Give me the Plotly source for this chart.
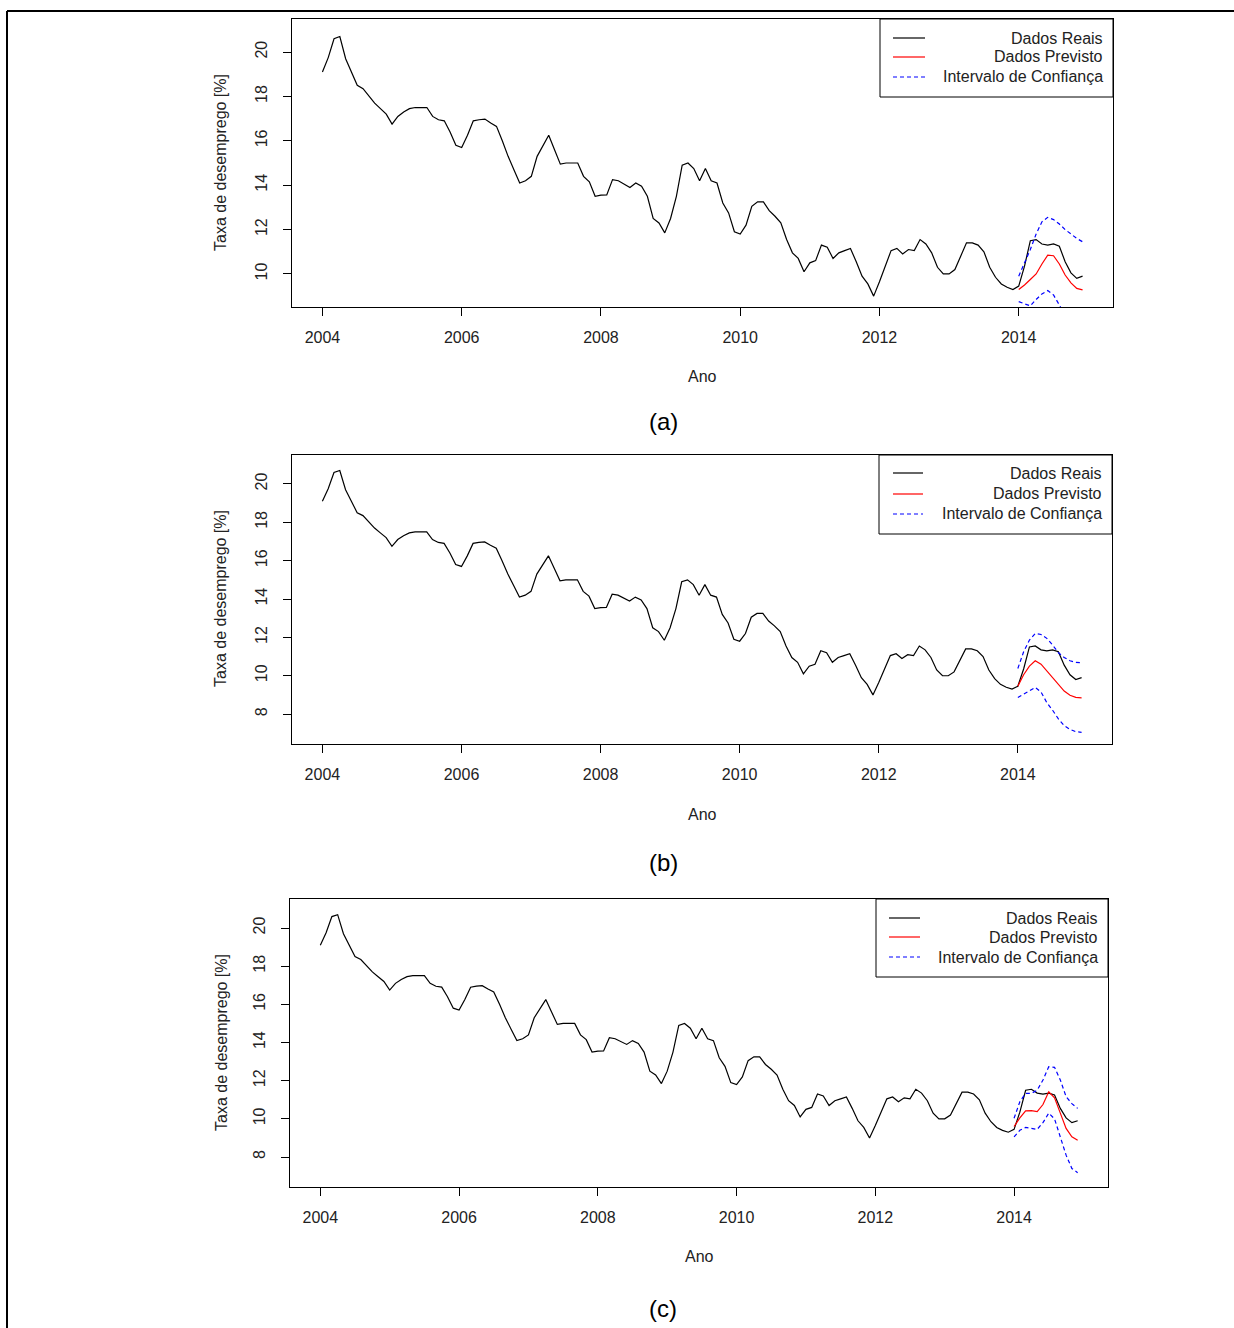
import plotly.graph_objects as go

# ---------------- data ----------------
start_year = 2004
real_values = [
    19.1, 19.75, 20.6, 20.7, 19.7, 19.1, 18.5, 18.35, 18.0, 17.7, 17.45, 17.2,
    16.75, 17.1, 17.3, 17.45, 17.5, 17.5, 17.5, 17.1, 16.95, 16.9, 16.4, 15.8,
    15.7, 16.25, 16.9, 16.95, 16.98, 16.8, 16.65, 16.0, 15.3, 14.7, 14.1, 14.2,
    14.4, 15.3, 15.8, 16.25, 15.6, 14.95, 15.0, 15.0, 15.0, 14.4, 14.15, 13.5,
    13.55, 13.56, 14.25, 14.2, 14.05, 13.9, 14.1, 13.95, 13.5, 12.5, 12.3, 11.85,
    12.5, 13.5, 14.9, 15.0, 14.75, 14.2, 14.75, 14.2, 14.1, 13.2, 12.75, 11.9,
    11.8, 12.2, 13.05, 13.25, 13.25, 12.85, 12.6, 12.3, 11.55, 10.95, 10.7, 10.1,
    10.5, 10.6, 11.3, 11.2, 10.7, 10.95, 11.05, 11.15, 10.55, 9.9, 9.55, 9.0,
    9.65, 10.35, 11.05, 11.15, 10.9, 11.1, 11.05, 11.55, 11.35, 10.95, 10.3, 10.0,
    10.0, 10.2, 10.8, 11.4, 11.4, 11.3, 11.0, 10.3, 9.85, 9.55, 9.4, 9.3,
    9.45, 10.35, 11.5, 11.55, 11.35, 11.3, 11.35, 11.25, 10.55, 10.05, 9.8, 9.9,
]
forecast_start = 2014

# panel (a)
forecast_a = [9.3, 9.5, 9.75, 10.0, 10.45, 10.85, 10.82, 10.45, 9.95, 9.6, 9.35, 9.28]
upper_a = [9.9, 10.5, 11.1, 11.8, 12.35, 12.55, 12.45, 12.25, 12.0, 11.8, 11.6, 11.45]
lower_a = [8.75, 8.65, 8.56, 8.85, 9.1, 9.25, 9.05, 8.6, 8.1, 7.7, 7.4, 7.2]
# panel (b)
forecast_b = [9.45, 10.05, 10.5, 10.78, 10.6, 10.25, 9.9, 9.55, 9.2, 8.98, 8.87, 8.85]
upper_b = [10.38, 11.25, 11.86, 12.2, 12.15, 11.95, 11.6, 11.2, 10.95, 10.78, 10.7, 10.68]
lower_b = [8.87, 9.05, 9.25, 9.39, 9.15, 8.6, 8.2, 7.75, 7.4, 7.2, 7.08, 7.05]
# panel (c)
forecast_c = [9.6, 10.05, 10.42, 10.43, 10.38, 10.75, 11.42, 11.1, 10.3, 9.5, 9.06, 8.88]
upper_c = [10.03, 10.9, 11.34, 11.34, 11.5, 12.04, 12.73, 12.7, 12.04, 11.16, 10.8, 10.55]
lower_c = [9.06, 9.4, 9.55, 9.5, 9.45, 9.8, 10.3, 10.0, 9.06, 8.1, 7.4, 7.18]

legend_labels = ["Dados Reais", "Dados Previsto", "Intervalo de Confiança"]
captions = ["(a)", "(b)", "(c)"]
x_title = "Ano"
y_title = "Taxa de desemprego [%]"

# ---------------- layout geometry (pixels) ----------------
W, H = 1234, 1328
FONT = "Liberation Sans, Arial, sans-serif"
TXT = "#222222"

panels = [
    dict(box=(292, 1113, 19, 307), yr=[8.51, 21.49], fc=forecast_a, up=upper_a, lo=lower_a,
         leg=(880, 1113, 19, 97, 893, 925, 1103, [38, 57, 77]), ytitle_y=163, xtitle_y=377, cap_y=422),
    dict(box=(292, 1112, 455, 744), yr=[6.44, 21.51], fc=forecast_b, up=upper_b, lo=lower_b,
         leg=(879, 1112, 455, 534, 893, 923, 1102, [473, 494, 514]), ytitle_y=599, xtitle_y=814, cap_y=862),
    dict(box=(290, 1108, 899, 1187), yr=[6.43, 21.52], fc=forecast_c, up=upper_c, lo=lower_c,
         leg=(876, 1108, 899, 977, 889, 920, 1098, [918, 937, 957]), ytitle_y=1043, xtitle_y=1256, cap_y=1308),
]


def px(x):
    return x / W


def py(y):
    return 1 - y / H


x_real = [start_year + i / 12 for i in range(len(real_values))]
x_fc = [forecast_start + j / 12 for j in range(len(forecast_a))]

fig = go.Figure()
shapes = []
annotations = []
DASH = "4px,3px"

for k, p in enumerate(panels):
    suf = "" if k == 0 else str(k + 1)
    xa, ya = "x" + suf, "y" + suf
    l, r, t, b = p["box"]

    fig.add_trace(go.Scatter(x=x_real, y=real_values, mode="lines", xaxis=xa, yaxis=ya,
                             line=dict(color="black", width=1.2), showlegend=False))
    fig.add_trace(go.Scatter(x=x_fc, y=p["fc"], mode="lines", xaxis=xa, yaxis=ya,
                             line=dict(color="#ff0000", width=1.2), showlegend=False))
    fig.add_trace(go.Scatter(x=x_fc, y=p["up"], mode="lines", xaxis=xa, yaxis=ya,
                             line=dict(color="#0000ff", width=1.2, dash=DASH), showlegend=False))
    fig.add_trace(go.Scatter(x=x_fc, y=p["lo"], mode="lines", xaxis=xa, yaxis=ya,
                             line=dict(color="#0000ff", width=1.2, dash=DASH), showlegend=False))

    axis_common = dict(showgrid=False, zeroline=False, showline=True, linecolor="black",
                       linewidth=1, mirror=True, ticks="outside", ticklen=8, tickwidth=1,
                       tickcolor="black", tickfont=dict(family=FONT, size=16, color=TXT))
    fig.update_layout(**{
        "xaxis" + suf: dict(axis_common, domain=[px(l), px(r)], range=[2003.563, 2015.354],
                            tick0=2004, dtick=2, anchor=ya, ticklabelstandoff=8),
        "yaxis" + suf: dict(axis_common, domain=[py(b), py(t)], range=p["yr"],
                            tick0=0, dtick=2, anchor=xa, tickangle=-90, ticklabelstandoff=10),
    })

    # legend box
    lx0, lx1, ly0, ly1, sx0, sx1, tx, rows = p["leg"]
    shapes.append(dict(type="rect", xref="paper", yref="paper", x0=px(lx0), x1=px(lx1),
                       y0=py(ly1), y1=py(ly0), line=dict(color="black", width=1),
                       fillcolor="white", layer="above"))
    styles = [dict(color="black", width=1.2), dict(color="#ff0000", width=1.2),
              dict(color="#0000ff", width=1.2, dash=DASH)]
    for lab, st, ry in zip(legend_labels, styles, rows):
        shapes.append(dict(type="line", xref="paper", yref="paper", x0=px(sx0), x1=px(sx1),
                           y0=py(ry), y1=py(ry), line=st, layer="above"))
        annotations.append(dict(text=lab, xref="paper", yref="paper", x=px(tx + 2), y=py(ry),
                                xanchor="right", yanchor="middle", showarrow=False,
                                font=dict(family=FONT, size=16, color=TXT)))

    # axis titles
    annotations.append(dict(text=x_title, xref="paper", yref="paper", x=px((l + r) / 2),
                            y=py(p["xtitle_y"]), xanchor="center", yanchor="middle",
                            showarrow=False, font=dict(family=FONT, size=16, color=TXT)))
    annotations.append(dict(text=y_title, xref="paper", yref="paper", x=px(221),
                            y=py(p["ytitle_y"]), xanchor="center", yanchor="middle",
                            textangle=-90, showarrow=False,
                            font=dict(family=FONT, size=16, color=TXT)))
    # caption
    annotations.append(dict(text=captions[k], xref="paper", yref="paper", x=px(663),
                            y=py(p["cap_y"]), xanchor="center", yanchor="middle",
                            showarrow=False, font=dict(family=FONT, size=24, color="black")))

# outer frame (top and left edges visible)
shapes.append(dict(type="line", xref="paper", yref="paper", x0=px(7), x1=1.0,
                   y0=py(11), y1=py(11), line=dict(color="black", width=2)))
shapes.append(dict(type="line", xref="paper", yref="paper", x0=px(7), x1=px(7),
                   y0=py(11), y1=0.0, line=dict(color="black", width=2)))

fig.update_layout(width=W, height=H, margin=dict(l=0, r=0, t=0, b=0),
                  paper_bgcolor="white", plot_bgcolor="white", showlegend=False,
                  shapes=shapes, annotations=annotations)

fig.write_html("out.html")
